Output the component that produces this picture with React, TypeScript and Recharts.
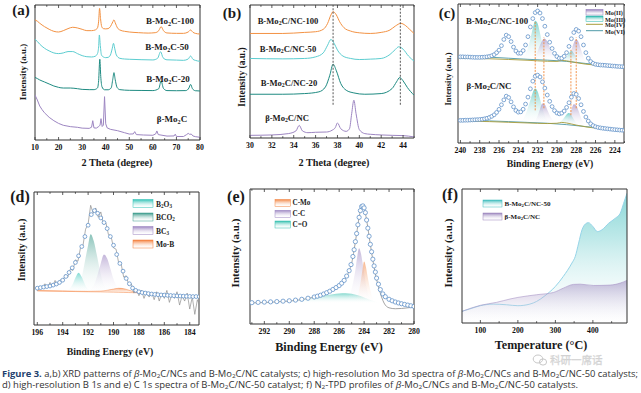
import React from 'react';
import { ComposedChart, Line, Area, XAxis, YAxis, ReferenceArea, ReferenceLine } from 'recharts';

const SERIF = '"Liberation Serif", "Times New Roman", serif';
const SANS = '"Open Sans", "Noto Sans", sans-serif';
type P = [number, number];
type R = [number, number, number];

// ---------- Panel a: XRD ----------
const aTicks = [10, 15, 20, 25, 30, 35, 40, 45, 50, 55, 60, 65, 70, 75, 80];
const aMajor = [10, 20, 30, 40, 50, 60, 70, 80];
const aB100: P[] = [[10,89],[11,88],[12,86.5],[14,84],[16,82],[18,80.5],[20,80],[22,81],[24,82.5],[26,83.5],[28,83],[30,82],[32,81],[34,81],[35.5,81.5],[36.5,83],[37,88],[37.4,97.5],[37.8,90],[38.3,84],[39,82.5],[40,82.3],[41,82.5],[42,84],[43,87.5],[43.5,89],[44,87],[45,83],[46,81.5],[48,80.5],[50,80],[54,79.5],[58,79.2],[61,79.5],[62.5,81],[63.5,84],[64.5,81],[66,79.3],[70,79],[73,79],[75,80],[76,81.5],[77,79.8],[78,79],[80,78.5]];
const aB50: P[] = [[10,74.6],[11,73],[12,71],[14,68],[16,66],[18,64.5],[20,64],[22,64.5],[24,65.5],[26,65.5],[28,64],[30,62.5],[32,61.7],[34,61.5],[35.5,62],[36.5,64],[37,69],[37.3,77.8],[37.7,70],[38.2,63],[39,61.5],[40,61],[41,61.2],[42,63],[42.8,68],[43.3,71.6],[43.8,68],[44.5,63],[46,60.5],[48,60],[50,59.8],[55,59.5],[60,59.3],[62,60.5],[63.3,65.4],[64.3,61],[66,59.4],[70,59.2],[73,59],[75,60],[76,62.2],[77,59.8],[78,59],[80,58.3]];
const aB20: P[] = [[10,46.4],[11,45.5],[12,44.5],[14,43],[16,41.5],[18,40],[20,39],[22,38.5],[25,38.5],[28,38],[30,37.5],[33,37.3],[35,37.3],[36.5,38.5],[37,44],[37.5,59.8],[37.9,47],[38.4,39.5],[39.5,37.2],[41,37.2],[42.3,38.5],[43,45],[43.5,49.9],[44,45],[44.8,39],[46,37.3],[50,36.8],[55,36.7],[60,36.6],[62.5,38],[63.5,43.7],[64.5,38.2],[66,36.6],[70,36.5],[74,36.6],[75.3,38.5],[76,41.2],[76.8,38],[78,36.5],[80,36.3]];
const aBeta: P[] = [[10,33.3],[11,29.6],[12,25.2],[13,22.5],[14,20.2],[16,16.8],[18,14.3],[20,12.3],[22,10.9],[25,9.9],[28,9.4],[30,8.8],[33,8.6],[34,9.5],[34.5,14.3],[35,9],[36,8.8],[37,9.9],[37.6,11],[38,15.8],[38.5,10],[39,11],[39.5,32.1],[40,12],[40.6,9],[42,7.9],[45,6.9],[48,5.4],[50,4.4],[51.7,4.5],[52.3,6.2],[53,4],[56,3.7],[60,3.5],[61.2,4.5],[61.7,6.7],[62.3,4],[66,2.9],[69,3],[69.5,4.3],[70,2.6],[73,2.6],[74.3,4],[75,4.9],[75.6,4.2],[76.3,4.4],[77,3],[78,2.5],[80,2]];

// ---------- Panel b: XRD zoom ----------
const bTicks = [30,31,32,33,34,35,36,37,38,39,40,41,42,43,44,45];
const bMajor = [30,32,34,36,38,40,42,44];
const bB100: P[] = [[30,78.6],[33,78.6],[35,79.4],[36,79.9],[36.7,81.7],[37.1,86.2],[37.4,92.5],[37.6,95],[37.9,92.5],[38.2,87.4],[38.6,82.9],[39.2,80.4],[40,79.1],[41,78.6],[42,79.4],[42.8,81.2],[43.3,84.2],[43.8,86.2],[44.2,84.7],[44.6,81.7],[45,78.6]];
const bB50: P[] = [[30,59.8],[33,59.5],[35,59.8],[36,61],[36.7,64],[37.1,69.8],[37.4,74.1],[37.7,71.1],[38,66.1],[38.5,61.6],[39.2,59.8],[40,59],[41,59.3],[42,59.8],[42.8,62.8],[43.3,66.6],[43.6,68.6],[44,66.8],[44.5,61.6],[45,57.8]];
const bB20: P[] = [[30,32.9],[33,32.9],[35,33.4],[36.3,34.7],[36.9,38.4],[37.3,47.2],[37.6,55.5],[37.9,50.5],[38.3,41],[38.8,35.9],[39.5,33.9],[40.5,32.9],[42,33.4],[43,37.2],[43.4,42.2],[43.7,45.5],[44,43],[44.4,37.9],[45,32.2]];
const bBeta: P[] = [[30,2],[32,2.3],[33.5,3.3],[34.2,5.3],[34.5,9.5],[34.8,5.3],[35.3,4],[36,4.3],[37,4.5],[37.5,5.8],[37.8,7.8],[38,11.3],[38.3,7],[38.8,5],[39.1,7],[39.3,18.3],[39.5,28.4],[39.7,18.3],[40,6.3],[40.5,3.3],[41,2.8],[42,2.3],[43,2],[44,1.8],[45,0.8]];
const bDash = [37.6, 43.75];

// ---------- Panel c: Mo 3d XPS ----------
const cTicks = [223,224,225,226,227,228,229,230,231,232,233,234,235,236,237,238,239,240];
const cMajor = [224,226,228,230,232,234,236,238,240];
const cTop: P[] = [[240,62],[239.75,62],[239.5,61.9],[239.25,61.9],[239,61.8],[238.75,61.7],[238.5,61.6],[238.25,61.6],[238,61.6],[237.75,61.7],[237.5,61.8],[237.25,62],[237,62.3],[236.75,62.8],[236.5,63.6],[236.25,65],[236,66.8],[235.75,70],[235.5,74.5],[235.25,77.6],[235,76.5],[234.75,73],[234.5,69],[234.25,66.2],[234,64.6],[233.75,64.6],[233.5,66.5],[233.25,70.5],[233,76.5],[232.75,83.5],[232.5,89.5],[232.25,93.8],[232,95],[231.75,93.5],[231.5,89.5],[231.25,84],[231,78],[230.75,72.5],[230.5,68],[230.25,64.5],[230,62.2],[229.75,61],[229.5,61],[229.25,62.4],[229,65],[228.75,69.5],[228.5,75],[228.25,79.5],[228,81.7],[227.75,80.5],[227.5,76.5],[227.25,70.5],[227,65],[226.75,61],[226.5,58.6],[226.25,57.3],[226,56.6],[225.75,56.3],[225.5,56.1],[225.25,56],[225,55.9],[224.75,55.7],[224.5,55.6],[224.25,55.4],[224,55.3],[223.75,55.1],[223.5,55],[223.25,54.9],[223,54.8]];
const cBot: P[] = [[240,16.3],[239.75,16.3],[239.5,16.4],[239.25,16.4],[239,16.5],[238.75,16.6],[238.5,16.7],[238.25,16.8],[238,16.9],[237.75,17.1],[237.5,17.4],[237.25,17.8],[237,18.4],[236.75,19.2],[236.5,20.3],[236.25,22],[236,24.2],[235.75,27.5],[235.5,31],[235.25,33.7],[235,32.7],[234.75,29.6],[234.5,26],[234.25,23.4],[234,22.2],[233.75,22.4],[233.5,24.3],[233.25,28],[233,33],[232.75,39],[232.5,44.5],[232.25,48],[232,48.8],[231.75,47.5],[231.5,44],[231.25,39.5],[231,34.5],[230.75,30],[230.5,26.2],[230.25,23.3],[230,21.6],[229.75,21],[229.5,21.5],[229.25,23],[229,25.6],[228.75,29],[228.5,33],[228.25,35.6],[228,35],[227.75,32],[227.5,27.5],[227.25,22.7],[227,18.7],[226.75,15.8],[226.5,13.8],[226.25,12.5],[226,11.7],[225.75,11.2],[225.5,10.9],[225.25,10.6],[225,10.4],[224.75,10.2],[224.5,10],[224.25,9.8],[224,9.6],[223.75,9.5],[223.5,9.3],[223.25,9.2],[223,9.1]];
const cTopMo6: P[] = [[240,62],[237,61.7],[235,61],[233,60.2],[231,59.6],[229,58.7],[227,57.2],[225,55.9],[223,55]];
const cTopMo4: P[] = [[240,61],[237,60.6],[235,60.1],[233,59.5],[231,58.8],[230,58.7],[229.5,59.4],[229,59.1],[228,57.8],[227,56.7],[225,55.6],[223,54.8]];
const cBotMo6: P[] = [[240,16.2],[237,15.9],[235,15.4],[233,14.8],[231,14.2],[229,13.2],[227,11.8],[225,10.3],[223,9.1]];
const cBotMo4: P[] = [[240,15.8],[237,15.4],[235,14.9],[233,14.4],[231,14],[230,14.2],[229.5,14.8],[229,14.4],[228,12.9],[227,11.6],[225,10.1],[223,9]];
const cTopMo3a: R[] = [[233.75,60.1,60.3],[233.5,60,61.5],[233.25,60,64],[233,59.9,68.5],[232.75,59.8,75],[232.5,59.7,82.5],[232.25,59.6,88],[232,59.6,86],[231.75,59.5,79],[231.5,59.5,71],[231.25,59.4,65],[231,59.4,61.5],[230.75,59.3,59.8]];
const cTopMo2a: R[] = [[232.5,59.7,60],[232.25,59.6,62],[232,59.6,66],[231.75,59.5,70.5],[231.5,59.5,74],[231.3,59.4,75.2],[231,59.4,73],[230.75,59.3,69],[230.5,59.2,65],[230.25,59.1,62],[230,59,60],[229.75,59,59.2]];
const cTopMo3b: R[] = [[229.5,58.9,59.2],[229.25,58.8,60],[229,58.7,62],[228.75,58.5,64.5],[228.5,58.4,66.3],[228.25,58.2,64.5],[228,58,61.5],[227.75,57.8,59],[227.5,57.6,57.8]];
const cTopMo2b: R[] = [[229,58.7,59],[228.75,58.5,62],[228.5,58.4,67],[228.25,58.2,72],[228,58,74.4],[227.75,57.8,72.5],[227.5,57.6,67],[227.25,57.4,62],[227,57.2,58.5],[226.75,57,57.2]];
const cBotMo3a: R[] = [[233.75,14.8,15],[233.5,14.7,17],[233.25,14.6,20.5],[233,14.6,25.5],[232.75,14.5,31],[232.5,14.4,36.5],[232.25,14.4,39.2],[232,14.3,37],[231.75,14.3,31.5],[231.5,14.2,25],[231.25,14.2,19.5],[231,14.1,16.5],[230.75,14.1,14.5]];
const cBotMo2a: R[] = [[232.5,14.4,14.8],[232.25,14.4,16],[232,14.3,19.5],[231.75,14.3,24.5],[231.5,14.2,28.4],[231.25,14.2,27.5],[231,14.1,24],[230.75,14.1,20],[230.5,14,17],[230.25,14,15],[230,13.9,14.1]];
const cBotMo3b: R[] = [[230,13.9,14],[229.75,13.8,14.8],[229.5,13.7,16.2],[229.25,13.6,18.2],[229,13.4,20.5],[228.75,13.3,21.5],[228.5,13.1,20],[228.25,13,17],[228,12.8,14.3],[227.75,12.6,12.8]];
const cBotMo2b: R[] = [[229.25,13.6,13.8],[229,13.4,15.2],[228.75,13.3,19],[228.5,13.1,24],[228.25,13,27.9],[228,12.8,27],[227.75,12.6,23],[227.5,12.4,18],[227.25,12.2,14.5],[227,12,12.2]];
const cDash: R[] = [[232.25,23.5,87],[231.35,25,76],[228.55,20,67],[228.0,25,76]];

// ---------- Panel d: B 1s ----------
const dTicks = [184,185,186,187,188,189,190,191,192,193,194,195,196];
const dMajor = [184,186,188,190,192,194,196];
const dEnv: P[] = [[196,27.7],[195.75,28.1],[195.5,28.5],[195.25,28.9],[195,29.3],[194.75,30],[194.5,30.8],[194.25,32],[194,33.7],[193.75,36.5],[193.5,39.5],[193.25,43],[193,47],[192.75,52],[192.5,59],[192.25,66.5],[192,75],[191.75,83],[191.5,86],[191.25,84],[191,80.5],[190.75,77],[190.5,72.5],[190.25,66.5],[190,60],[189.75,53],[189.5,46.3],[189.25,40.5],[189,35],[188.75,31],[188.5,27.8],[188.25,26],[188,25],[187.75,24.4],[187.5,24],[187.25,23.6],[187,23.3],[186.75,23],[186.5,22.8],[186.25,22.6],[186,22.5],[185.75,22.3],[185.5,22.2],[185.25,22],[185,21.9],[184.75,21.8],[184.5,21.7],[184.25,21.6],[184,21.5],[183.75,21.4],[183.5,21.4],[183.25,21.3]];
const dRaw: P[] = [[196,26],[195.8,29],[195.6,27.5],[195.4,31],[195.2,28],[195,32],[194.8,29],[194.6,33.5],[194.4,30],[194.2,34],[194,32.5],[193.8,38],[193.6,36],[193.4,42],[193.2,41],[193,49],[192.8,48],[192.6,58],[192.4,60],[192.2,72],[192,76],[191.8,90],[191.6,84],[191.4,88],[191.2,81],[191,85],[190.8,76],[190.6,77],[190.4,68],[190.2,67],[190,58],[189.8,57],[189.6,47],[189.4,46],[189.2,36],[189,37],[188.8,30],[188.6,31],[188.4,24],[188.2,27],[188,22],[187.8,26],[187.6,20],[187.4,25],[187.2,21],[187,24.5],[186.8,19],[186.6,25],[186.4,18],[186.2,24],[186,20],[185.8,26],[185.6,17],[185.4,23],[185.2,20],[185,25],[184.8,15],[184.6,22],[184.4,18],[184.2,24],[184,12],[183.8,21],[183.6,8],[183.4,19],[183.2,14]];
const dB2O3: R[] = [[193.75,25.3,25.5],[193.5,25.3,26.8],[193.25,25.2,30],[193,25.2,35.5],[192.75,25.2,39.3],[192.5,25.1,36],[192.25,25.1,30.5],[192,25.1,27],[191.75,25,25.3]];
const dBCO2: R[] = [[193,25.2,25.6],[192.75,25.2,28.5],[192.5,25.1,36],[192.25,25.1,48],[192,25.1,60],[191.8,25,68.3],[191.55,25,63],[191.3,25,52],[191,24.9,38],[190.75,24.9,30],[190.5,24.8,26.2],[190.25,24.8,25]];
const dBC3: R[] = [[192,25.1,25.3],[191.75,25,27],[191.5,25,31],[191.25,25,38],[191,24.9,46.5],[190.75,24.9,53],[190.5,24.8,50],[190.25,24.8,42.5],[190,24.7,34.5],[189.75,24.7,29],[189.5,24.6,26],[189.25,24.6,24.8]];
const dMoB: R[] = [[196,25.6,25.9],[194,25.3,25.6],[192,25,25.3],[191,24.9,25.5],[190.5,24.8,26.1],[190,24.7,27],[189.6,24.6,27.6],[189.2,24.5,27.3],[188.8,24.4,26.2],[188.4,24.3,25],[188,24.2,24.4]];

// ---------- Panel e: C 1s ----------
const eTicks = [280,281,282,283,284,285,286,287,288,289,290,291,292,293];
const eMajor = [280,282,284,286,288,290,292];
const eEnv: P[] = [[293,15.8],[292.5,16],[292,16.2],[291.5,16.4],[291,16.6],[290.5,16.9],[290,17.2],[289.5,17.7],[289,18.3],[288.5,19.1],[288,20],[287.75,20.6],[287.5,21.3],[287.25,22.2],[287,23.2],[286.75,24.3],[286.5,25.6],[286.25,27],[286,28.5],[285.8,30.2],[285.6,32.3],[285.4,35.5],[285.2,39.5],[285.05,44],[284.9,50],[284.8,55],[284.7,61],[284.6,67],[284.5,73.5],[284.4,79],[284.3,84],[284.2,87],[284.1,87.5],[284,86],[283.9,82.5],[283.8,77],[283.7,71],[283.6,65],[283.5,59],[283.4,53.5],[283.3,48],[283.2,43],[283.1,38.5],[283,34],[282.85,29.5],[282.7,25.5],[282.5,22.3],[282.3,20.2],[282,18.3],[281.75,17.2],[281.5,16.3],[281.25,15.6],[281,15],[280.75,14.5],[280.5,14],[280.25,13.5],[280,13]];
const eFit: P[] = [[293,15.6],[291,16.4],[289,18.1],[287,23],[286,28.3],[285.5,33.5],[285.2,39.3],[285,45],[284.8,55],[284.6,67],[284.4,79],[284.2,87],[284.1,87.5],[284,86],[283.8,77],[283.6,65],[283.4,53],[283.2,42],[283,33],[282.8,26],[282.6,20],[282.4,15.5],[282.2,13],[282,12],[281.5,11.3],[281,11.5],[280.5,12],[280,12.5]];
const eCO: R[] = [[289.5,15.5,17.6],[289,15.5,18.2],[288.5,15.5,19],[288,15.5,19.8],[287.5,15.5,20.6],[287,15.5,21.4],[286.5,15.5,22.1],[286,15.5,22.6],[285.5,15.5,22.8],[285,15.5,22.4],[284.5,15.5,21.3],[284,15.5,19.6],[283.5,15.5,17.7],[283,15.5,16.3],[282.6,15.5,15.6]];
const eCC: R[] = [[285.6,16,16.6],[285.3,16,19],[285.1,16,23],[284.9,16,30],[284.7,16,40],[284.55,16,50],[284.4,16,56.2],[284.25,16,52],[284.1,16,44],[283.95,16,35],[283.8,16,27],[283.6,16,20.5],[283.4,16,17.5],[283.2,16,16.3]];
const eCMo: R[] = [[284.7,16,17],[284.5,16,21],[284.3,16,30],[284.15,16,39],[284,16,46.3],[283.85,16,42],[283.7,16,34],[283.5,16,25],[283.3,16,19],[283.1,16,16.8],[282.9,16,16.1]];

// ---------- Panel f: N2-TPD ----------
const fTicks = [100, 150, 200, 250, 300, 350, 400, 450];
const fMajor = [100, 200, 300, 400];
const fB50: P[] = [[51,8.7],[71,10.4],[100,12.9],[134,14.1],[170,13.6],[200,12.9],[232,14.1],[250,16.1],[272,20.3],[300,27.3],[321,34.7],[344,44.7],[353,49.6],[362,59.6],[371,69.5],[380,73.9],[388,74.9],[400,72],[412,68.2],[424,69.5],[442,74.4],[460,78.2],[473,81.9],[482,89.3],[491,96.8]];
const fBeta: P[] = [[51,8.7],[100,13.2],[143,15.4],[179,17.9],[200,19.1],[250,21.1],[295,22.8],[321,26],[348,28.8],[366,29],[402,28],[446,28.3],[473,29.8],[491,31.8]];

const xy = (a: P[]) => a.map(([x, y]) => ({ x, y }));
const rg = (a: R[]) => a.map(([x, lo, hi]) => ({ x, lo, hi }));
const rangeKey = (d: any) => [d.lo, d.hi];

const TM = 2;
const mkBottomTick = (majors: number[]) => (p: any) => {
  const { x, y, payload } = p;
  const v = payload.value;
  const major = majors.includes(v);
  const ay = y - TM;
  return (
    <g>
      <line x1={x} x2={x} y1={ay} y2={ay - (major ? 3 : 1.8)} stroke="#333" strokeWidth={0.8} />
      {major && (
        <text x={x} y={ay + 7.8} textAnchor="middle" dominantBaseline="central" fontSize={7.8} fontWeight="bold" fontFamily={SERIF} fill="#111">{v}</text>
      )}
    </g>
  );
};
const mkTopTick = (majors: number[]) => (p: any) => {
  const { x, y, payload } = p;
  const major = majors.includes(payload.value);
  return <line x1={x} x2={x} y1={y} y2={y + (major ? 3 : 1.8)} stroke="#333" strokeWidth={0.8} />;
};

function Panel(props: { rect: number[]; domain: [number, number]; reversed?: boolean; ticks: number[]; majors: number[]; children: any }) {
  const [L, T, Rr, B] = props.rect;
  const padL = 14, padR = 14, mTop = 5, axisH = 16;
  const w = Rr - L + padL + padR;
  const h = B - T + mTop + 1 + axisH;
  return (
    <div style={{ position: 'absolute', left: L - padL, top: T - mTop - 1, width: w, height: h }}>
      <ComposedChart width={w} height={h} margin={{ top: mTop, right: padR, left: padL, bottom: 0 }}>
        {props.children}
        <XAxis xAxisId={0} type="number" dataKey="x" domain={props.domain} reversed={props.reversed} ticks={props.ticks} interval={0} allowDataOverflow tickSize={0} tickMargin={TM} tickLine={false} axisLine={false} height={axisH} tick={mkBottomTick(props.majors)} />
        <XAxis xAxisId="top" orientation="top" type="number" dataKey="x" domain={props.domain} reversed={props.reversed} ticks={props.ticks} interval={0} allowDataOverflow tickSize={0} tickMargin={0} tickLine={false} axisLine={false} height={1} tick={mkTopTick(props.majors)} />
        <YAxis hide type="number" domain={[0, 100]} allowDataOverflow />
        <ReferenceArea x1={props.domain[0]} x2={props.domain[1]} y1={0} y2={100} fill="none" stroke="#333" strokeWidth={1} ifOverflow="visible" />
      </ComposedChart>
    </div>
  );
}

function Grad({ id, color, end = '#ffffff', o1 = 1, o2 = 0.25 }: { id: string; color: string; end?: string; o1?: number; o2?: number }) {
  return (
    <linearGradient id={id} x1="0" y1="0" x2="0" y2="1">
      <stop offset="0%" stopColor={color} stopOpacity={o1} />
      <stop offset="100%" stopColor={end} stopOpacity={o2} />
    </linearGradient>
  );
}

function chem(s: string, fs: number) {
  const parts = s.split(/(_.|~.)/);
  const out: any[] = [];
  let shifted = false;
  parts.forEach((p, i) => {
    if (!p) return;
    if (p[0] === '_') {
      out.push(<tspan key={i} fontSize={fs * 0.68} dy={fs * 0.28}>{p[1]}</tspan>);
      shifted = true;
    } else if (p[0] === '~') {
      out.push(<tspan key={i} fontStyle="italic" dy={shifted ? -fs * 0.28 : 0}>{p[1]}</tspan>);
      shifted = false;
    } else {
      out.push(<tspan key={i} dy={shifted ? -fs * 0.28 : 0}>{p}</tspan>);
      shifted = false;
    }
  });
  return out;
}

function Txt({ x, y, s, fs = 9, anchor = 'middle', rot = false, weight = 'bold', fill = '#1a1a1a', family = SERIF }: any) {
  return (
    <text x={x} y={y} fontSize={fs} fontWeight={weight} fontFamily={family} fill={fill} textAnchor={anchor} dominantBaseline="central" transform={rot ? `rotate(-90 ${x} ${y})` : undefined}>
      {chem(s, fs)}
    </text>
  );
}

const C = {
  orange: '#f39243', cyan: '#5ccdd0', teal: '#1f8b82', purple: '#9d86c2',
  dot: '#5a8cc6', mTeal: '#22b5ab', mPurple: '#8f78b8', olive: '#a89c3a', mo6: '#4f9aa8', dash: '#f0883a',
  b2o3: '#2ec2b5', bco2: '#3a9a8a', bc3: '#9a82c0', mob: '#f47e3a',
  cmo: '#f28441', cc: '#9c86c2', co: '#33bfae', fTeal: '#3dbdbd', fLine: '#95d4e8', fPurple: '#9a85bd',
};

const dotStyle = { r: 1.9, stroke: C.dot, strokeWidth: 0.75, fill: '#ffffff' };

export default function App() {
  const common = { isAnimationActive: false, dot: false, activeDot: false } as any;
  return (
    <div style={{ position: 'absolute', left: 0, top: 0, width: 641, height: 393, background: '#fff', overflow: 'hidden' }}>
      {/* a */}
      <Panel rect={[35, 5, 200, 140]} domain={[10, 80]} ticks={aTicks} majors={aMajor}>
        <Line {...common} data={xy(aBeta)} dataKey="y" type="linear" stroke={C.purple} strokeWidth={1} />
        <Line {...common} data={xy(aB20)} dataKey="y" type="monotone" stroke={C.teal} strokeWidth={1} />
        <Line {...common} data={xy(aB50)} dataKey="y" type="monotone" stroke={C.cyan} strokeWidth={1} />
        <Line {...common} data={xy(aB100)} dataKey="y" type="monotone" stroke={C.orange} strokeWidth={1} />
      </Panel>
      {/* b */}
      <Panel rect={[250, 5, 414, 138]} domain={[30, 45]} ticks={bTicks} majors={bMajor}>
        <Line {...common} data={xy(bBeta)} dataKey="y" type="monotone" stroke={C.purple} strokeWidth={1} />
        <Line {...common} data={xy(bB20)} dataKey="y" type="monotone" stroke={C.teal} strokeWidth={1} />
        <Line {...common} data={xy(bB50)} dataKey="y" type="monotone" stroke={C.cyan} strokeWidth={1} />
        <Line {...common} data={xy(bB100)} dataKey="y" type="monotone" stroke={C.orange} strokeWidth={1} />
        {bDash.map((x) => (
          <ReferenceLine key={x} segment={[{ x, y: 25 }, { x, y: 100 }]} stroke="#444" strokeDasharray="2 1.5" strokeWidth={0.9} />
        ))}
      </Panel>
      {/* c */}
      <Panel rect={[458, 4, 624, 143]} domain={[223.05, 240.25]} reversed ticks={cTicks} majors={cMajor}>
        <defs>
          <Grad id="cgT" color={C.mTeal} o2={0.1} />
          <Grad id="cgP" color={C.mPurple} o2={0.1} />
        </defs>
        <Line {...common} data={xy(cTopMo6)} dataKey="y" type="monotone" stroke={C.mo6} strokeWidth={0.9} />
        <Line {...common} data={xy(cTopMo4)} dataKey="y" type="monotone" stroke={C.olive} strokeWidth={0.9} />
        <Line {...common} data={xy(cBotMo6)} dataKey="y" type="monotone" stroke={C.mo6} strokeWidth={0.9} />
        <Line {...common} data={xy(cBotMo4)} dataKey="y" type="monotone" stroke={C.olive} strokeWidth={0.9} />
        <Area isAnimationActive={false} data={rg(cTopMo3a)} dataKey={rangeKey} type="monotone" stroke="none" fill="url(#cgT)" />
        <Area isAnimationActive={false} data={rg(cTopMo2a)} dataKey={rangeKey} type="monotone" stroke="none" fill="url(#cgP)" />
        <Area isAnimationActive={false} data={rg(cTopMo3b)} dataKey={rangeKey} type="monotone" stroke="none" fill="url(#cgT)" />
        <Area isAnimationActive={false} data={rg(cTopMo2b)} dataKey={rangeKey} type="monotone" stroke="none" fill="url(#cgP)" />
        <Area isAnimationActive={false} data={rg(cBotMo3a)} dataKey={rangeKey} type="monotone" stroke="none" fill="url(#cgT)" />
        <Area isAnimationActive={false} data={rg(cBotMo2a)} dataKey={rangeKey} type="monotone" stroke="none" fill="url(#cgP)" />
        <Area isAnimationActive={false} data={rg(cBotMo3b)} dataKey={rangeKey} type="monotone" stroke="none" fill="url(#cgT)" />
        <Area isAnimationActive={false} data={rg(cBotMo2b)} dataKey={rangeKey} type="monotone" stroke="none" fill="url(#cgP)" />
        {cDash.map(([x, y1, y2]) => (
          <ReferenceLine key={x} segment={[{ x, y: y1 }, { x, y: y2 }]} stroke={C.dash} strokeDasharray="2 1.2" strokeWidth={0.9} />
        ))}
        <Line isAnimationActive={false} activeDot={false} data={xy(cTop)} dataKey="y" stroke="none" dot={dotStyle} />
        <Line isAnimationActive={false} activeDot={false} data={xy(cBot)} dataKey="y" stroke="none" dot={dotStyle} />
      </Panel>
      {/* d */}
      <Panel rect={[34, 192, 199, 325]} domain={[183.27, 196.26]} reversed ticks={dTicks} majors={dMajor}>
        <defs>
          <Grad id="dg1" color={C.b2o3} o2={0.1} />
          <Grad id="dg2" color={C.bco2} o2={0.1} />
          <Grad id="dg3" color={C.bc3} o2={0.1} />
          <Grad id="dg4" color={C.mob} end="#fde1cc" o2={0.4} />
        </defs>
        <Line {...common} data={xy(dRaw)} dataKey="y" type="linear" stroke="#8e8e8e" strokeWidth={0.7} />
        <Area isAnimationActive={false} data={rg(dMoB)} dataKey={rangeKey} type="monotone" stroke={C.mob} strokeWidth={0.5} fill="url(#dg4)" />
        <Area isAnimationActive={false} data={rg(dB2O3)} dataKey={rangeKey} type="monotone" stroke="none" fill="url(#dg1)" />
        <Area isAnimationActive={false} data={rg(dBCO2)} dataKey={rangeKey} type="monotone" stroke="none" fill="url(#dg2)" />
        <Area isAnimationActive={false} data={rg(dBC3)} dataKey={rangeKey} type="monotone" stroke="none" fill="url(#dg3)" />
        <Line isAnimationActive={false} activeDot={false} data={xy(dEnv)} dataKey="y" stroke="none" dot={dotStyle} />
      </Panel>
      {/* e */}
      <Panel rect={[250, 189, 414, 324]} domain={[280, 293.15]} reversed ticks={eTicks} majors={eMajor}>
        <defs>
          <Grad id="eg1" color={C.co} o2={0.05} />
          <Grad id="eg2" color={C.cc} o2={0.05} />
          <Grad id="eg3" color={C.cmo} o2={0.05} />
        </defs>
        <Line {...common} data={xy(eFit)} dataKey="y" type="monotone" stroke="#9a9a9a" strokeWidth={0.9} />
        <Area isAnimationActive={false} data={rg(eCO)} dataKey={rangeKey} type="monotone" stroke="none" fill="url(#eg1)" />
        <Area isAnimationActive={false} data={rg(eCC)} dataKey={rangeKey} type="monotone" stroke="none" fill="url(#eg2)" />
        <Area isAnimationActive={false} data={rg(eCMo)} dataKey={rangeKey} type="monotone" stroke="none" fill="url(#eg3)" />
        <Line isAnimationActive={false} activeDot={false} data={xy(eEnv)} dataKey="y" stroke="none" dot={{ ...dotStyle, r: 2.1 }} />
      </Panel>
      {/* f */}
      <Panel rect={[462, 189, 627, 323]} domain={[51, 491]} ticks={fTicks} majors={fMajor}>
        <defs>
          <linearGradient id="fg1" x1="0" y1="0" x2="0" y2="1">
            <stop offset="0%" stopColor={C.fTeal} stopOpacity={1} />
            <stop offset="35%" stopColor={C.fTeal} stopOpacity={0.55} />
            <stop offset="100%" stopColor="#ffffff" stopOpacity={0.1} />
          </linearGradient>
          <linearGradient id="fg2" x1="0" y1="0" x2="0" y2="1">
            <stop offset="0%" stopColor={C.fPurple} stopOpacity={0.95} />
            <stop offset="100%" stopColor="#ffffff" stopOpacity={0.2} />
          </linearGradient>
        </defs>
        <Area isAnimationActive={false} data={xy(fB50)} dataKey="y" type="monotone" stroke={C.fLine} strokeWidth={1} fill="url(#fg1)" />
        <Area isAnimationActive={false} data={xy(fBeta)} dataKey="y" type="monotone" stroke="#a894c6" strokeWidth={0.6} fill="url(#fg2)" />
      </Panel>

      {/* text overlay */}
      <svg width={641} height={393} style={{ position: 'absolute', left: 0, top: 0, pointerEvents: 'none' }}>
        <defs>
          <Grad id="lgT" color={C.mTeal} o2={0.1} />
          <Grad id="lgP" color={C.mPurple} o2={0.1} />
          <Grad id="lg1" color={C.b2o3} o2={0.1} />
          <Grad id="lg2" color={C.bco2} o2={0.1} />
          <Grad id="lg3" color={C.bc3} o2={0.1} />
          <Grad id="lg4" color={C.mob} o2={0.1} />
          <Grad id="lg5" color={C.cmo} o2={0.1} />
          <Grad id="lg6" color={C.cc} o2={0.1} />
          <Grad id="lg7" color={C.co} o2={0.1} />
          <Grad id="lg8" color={C.fTeal} o2={0.1} />
          <Grad id="lg9" color={C.fPurple} o2={0.1} />
        </defs>
        {/* panel letters */}
        <Txt x={21} y={10} s="(a)" fs={15} />
        <Txt x={232} y={13} s="(b)" fs={15} />
        <Txt x={447} y={13} s="(c)" fs={15} />
        <Txt x={20} y={196} s="(d)" fs={16} />
        <Txt x={236} y={196} s="(e)" fs={16} />
        <Txt x={450} y={194} s="(f)" fs={16} />
        {/* y labels */}
        <Txt x={23} y={72} s="Intensity (a.u.)" fs={9} rot />
        <Txt x={242} y={77} s="Intensity (a.u.)" fs={9.5} rot />
        <Txt x={448} y={79} s="Intensity (a.u.)" fs={8.5} rot />
        <Txt x={21} y={250} s="Intensity (a.u.)" fs={10} rot />
        <Txt x={235} y={253} s="Intensity (a.u.)" fs={11} rot />
        <Txt x={448} y={253} s="Intensity (a.u.)" fs={11} rot />
        {/* x labels */}
        <Txt x={117} y={162} s="2 Theta (degree)" fs={10.2} />
        <Txt x={334} y={161.5} s="2 Theta (degree)" fs={10.2} />
        <Txt x={550} y={163} s="Binding Energy (eV)" fs={9.8} />
        <Txt x={110} y={351} s="Binding Energy (eV)" fs={9.8} />
        <Txt x={329} y={347} s="Binding Energy (eV)" fs={12.2} />
        <Txt x={541} y={345} s="Temperature (°C)" fs={12.2} />
        {/* series labels */}
        <Txt x={170} y={21} s="B-Mo_2C-100" fs={9} />
        <Txt x={167} y={47} s="B-Mo_2C-50" fs={9} />
        <Txt x={168} y={79} s="B-Mo_2C-20" fs={9} />
        <Txt x={172} y={119} s="β-Mo_2C" fs={9} />
        <Txt x={288} y={21} s="B-Mo_2C/NC-100" fs={8.6} />
        <Txt x={288} y={49} s="B-Mo_2C/NC-50" fs={8.6} />
        <Txt x={289} y={82.5} s="B-Mo_2C/NC-20" fs={8.6} />
        <Txt x={287} y={117.5} s="β-Mo_2C/NC" fs={8.6} />
        <Txt x={497} y={21} s="B-Mo_2C/NC-100" fs={8.8} />
        <Txt x={489} y={86} s="β-Mo_2C/NC" fs={8.8} />
        {/* legend c */}
        <rect x={586} y={9.5} width={17} height={5.5} fill="url(#lgP)" stroke={C.mPurple} strokeWidth={0.5} />
        <rect x={586} y={16} width={17} height={5.5} fill="url(#lgT)" stroke={C.mTeal} strokeWidth={0.5} />
        <line x1={586} x2={603} y1={24.3} y2={24.3} stroke={C.olive} strokeWidth={1} />
        <line x1={586} x2={603} y1={30.7} y2={30.7} stroke={C.mo6} strokeWidth={1} />
        <Txt x={605} y={12.3} s="Mo(II)" fs={6.2} anchor="start" />
        <Txt x={605} y={18.8} s="Mo(III)" fs={6.2} anchor="start" />
        <Txt x={605} y={24.4} s="Mo(IV)" fs={6.2} anchor="start" />
        <Txt x={605} y={30.8} s="Mo(VI)" fs={6.2} anchor="start" />
        {/* legend d */}
        <rect x={133} y={199.5} width={20} height={8} fill="url(#lg1)" stroke={C.b2o3} strokeWidth={0.5} />
        <rect x={133} y={213} width={20} height={8} fill="url(#lg2)" stroke={C.bco2} strokeWidth={0.5} />
        <rect x={133} y={226.5} width={20} height={8} fill="url(#lg3)" stroke={C.bc3} strokeWidth={0.5} />
        <rect x={133} y={240} width={20} height={8} fill="url(#lg4)" stroke={C.mob} strokeWidth={0.5} />
        <Txt x={156} y={203.5} s="B_2O_3" fs={7.5} anchor="start" />
        <Txt x={156} y={217} s="BCO_2" fs={7.5} anchor="start" />
        <Txt x={156} y={230.5} s="BC_3" fs={7.5} anchor="start" />
        <Txt x={156} y={244} s="Mo-B" fs={7.5} anchor="start" />
        {/* legend e */}
        <rect x={275} y={199.5} width={15.5} height={7} fill="url(#lg5)" stroke={C.cmo} strokeWidth={0.5} />
        <rect x={275} y={210.3} width={15.5} height={7} fill="url(#lg6)" stroke={C.cc} strokeWidth={0.5} />
        <rect x={275} y={221} width={15.5} height={7} fill="url(#lg7)" stroke={C.co} strokeWidth={0.5} />
        <Txt x={292.5} y={203} s="C-Mo" fs={7.2} anchor="start" />
        <Txt x={292.5} y={213.8} s="C-C" fs={7.2} anchor="start" />
        <Txt x={292.5} y={224.5} s="C=O" fs={7.2} anchor="start" />
        {/* legend f */}
        <rect x={483} y={200} width={19} height={7} fill="url(#lg8)" stroke={C.fTeal} strokeWidth={0.5} />
        <rect x={483} y={213} width={19} height={7} fill="url(#lg9)" stroke={C.fPurple} strokeWidth={0.5} />
        <Txt x={504.5} y={203.5} s="B-Mo_2C/NC-50" fs={7} anchor="start" />
        <Txt x={504.5} y={216.5} s="β-Mo_2C/NC" fs={7} anchor="start" />
        {/* caption */}
        <text x={2} y={373.5} fontSize={8.8} fontFamily={SANS} fill="#333" dominantBaseline="central" textLength={636} lengthAdjust="spacingAndGlyphs">
          <tspan fontWeight="bold" fill="#233f6e">Figure 3.</tspan>
          {chem('  a,b) XRD patterns of ~β-Mo_2C/NCs and B-Mo_2C/NC catalysts; c) high-resolution Mo 3d spectra of ~β-Mo_2C/NCs and B-Mo_2C/NC-50 catalysts;', 8.8)}
        </text>
        <text x={2} y={384.5} fontSize={8.8} fontFamily={SANS} fill="#333" dominantBaseline="central" textLength={576} lengthAdjust="spacingAndGlyphs">
          {chem('d) high-resolution B 1s and e) C 1s spectra of B-Mo_2C/NC-50 catalyst; f) N_2-TPD profiles of ~β-Mo_2C/NCs and B-Mo_2C/NC-50 catalysts.', 8.8)}
        </text>
        {/* watermark */}
        <g opacity={0.8}>
          <ellipse cx={538} cy={359} rx={4.8} ry={4} fill="none" stroke="#bbb" strokeWidth={1} />
          <ellipse cx={543} cy={362} rx={3.6} ry={3.1} fill="none" stroke="#bbb" strokeWidth={1} />
          <text x={550} y={359.5} fontSize={10.5} fontFamily='"Noto Sans CJK SC", sans-serif' fill="#d6d6d6" stroke="#c2c2c2" strokeWidth={0.3} dominantBaseline="central">科研一席话</text>
        </g>
      </svg>
    </div>
  );
}
